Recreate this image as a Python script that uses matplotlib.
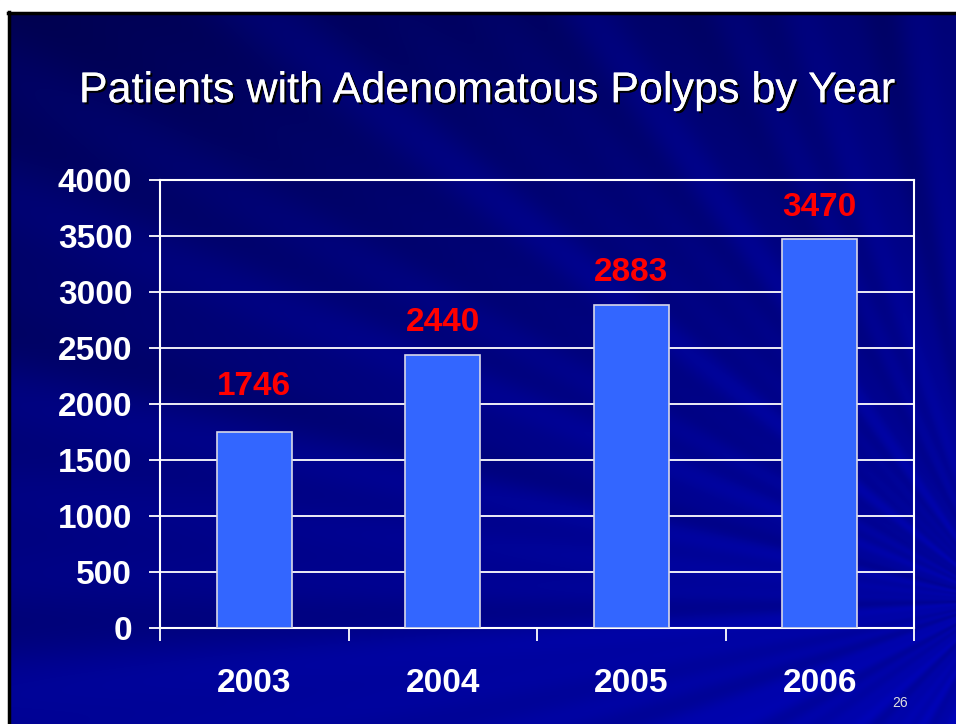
import numpy as np
import matplotlib.pyplot as plt
import matplotlib.patheffects as pe

years = ['2003', '2004', '2005', '2006']
patients = [1746, 2440, 2883, 3470]
label_offsets = [22, 12, 12, 12]   # points above the bar top

W, H = 956, 724
fig = plt.figure(figsize=(W / 100, H / 100), dpi=100)
plt.rcParams['font.family'] = ['Liberation Sans', 'DejaVu Sans']

# slide background: dark blue gradient with faint rays from the right
bg = fig.add_axes([0, 0, 1, 1])
yy, xx = np.mgrid[0:H, 0:W]
base = 0.34 + 0.12 * (xx / W) + 0.22 * (yy / H)
ang = np.arctan2(yy - 600, xx - 1000)
rays = 0.025 * np.cos(ang * 23) + 0.02 * np.cos(ang * 41 + 1.0) + 0.015 * np.cos(ang * 67 + 2.0)
b = np.clip(base + rays, 0, 1)
img = np.zeros((H, W, 3))
img[..., 2] = b
img[..., 1] = 0.02 * b
bg.imshow(img, extent=[0, W, H, 0], aspect='auto')
bg.add_patch(plt.Rectangle((0, 0), W, 12, color='white'))
bg.add_patch(plt.Rectangle((0, 0), 8, H, color='white'))
bg.plot([8, W], [13, 13], color='black', lw=2.5)
bg.plot([9, 9], [12, H], color='black', lw=2.5)
bg.set_xlim(0, W)
bg.set_ylim(H, 0)
bg.axis('off')

fig.text(0.509, 0.874, 'Patients with Adenomatous Polyps by Year', color='white',
         fontsize=31, ha='center', va='center',
         path_effects=[pe.withSimplePatchShadow(offset=(1.5, -1.5), shadow_rgbFace='black', alpha=1),
                       pe.Normal()])
fig.text(0.942, 0.029, '26', color='#e0e0e0', fontsize=10, ha='center', va='center')

ax = fig.add_axes([0.1674, 0.1326, 0.7887, 0.6188])
ax.patch.set_alpha(0)
x = np.arange(len(years))
bars = ax.bar(x, patients, width=0.4, color='#3366ff', edgecolor='#d8d8e8', linewidth=1.2, zorder=3)
for xi, v, off in zip(x, patients, label_offsets):
    ax.annotate(str(v), (xi, v), xytext=(0, off), textcoords='offset points',
                ha='center', va='bottom', color='#ff0000', fontsize=24, fontweight='bold', zorder=4)

ax.set_xlim(-0.5, 3.5)
ax.set_ylim(0, 4000)
ax.set_yticks(range(0, 4001, 500))
ax.grid(axis='y', color='white', lw=1.3, zorder=1)
ax.set_xticks(x)
ax.set_xticklabels(years)
ax.set_xticks(np.arange(-0.5, 4, 1), minor=True)
ax.tick_params(axis='x', which='major', length=0, pad=29, labelsize=24, labelcolor='white')
ax.tick_params(axis='x', which='minor', length=9, width=1.3, color='white')
ax.tick_params(axis='y', length=8, width=1.3, color='white', pad=12, labelsize=24, labelcolor='white')
for lbl in ax.get_xticklabels() + ax.get_yticklabels():
    lbl.set_fontweight('bold')
for s in ax.spines.values():
    s.set_color('white')
    s.set_linewidth(1.5)

fig.savefig('out.png', dpi=100)
